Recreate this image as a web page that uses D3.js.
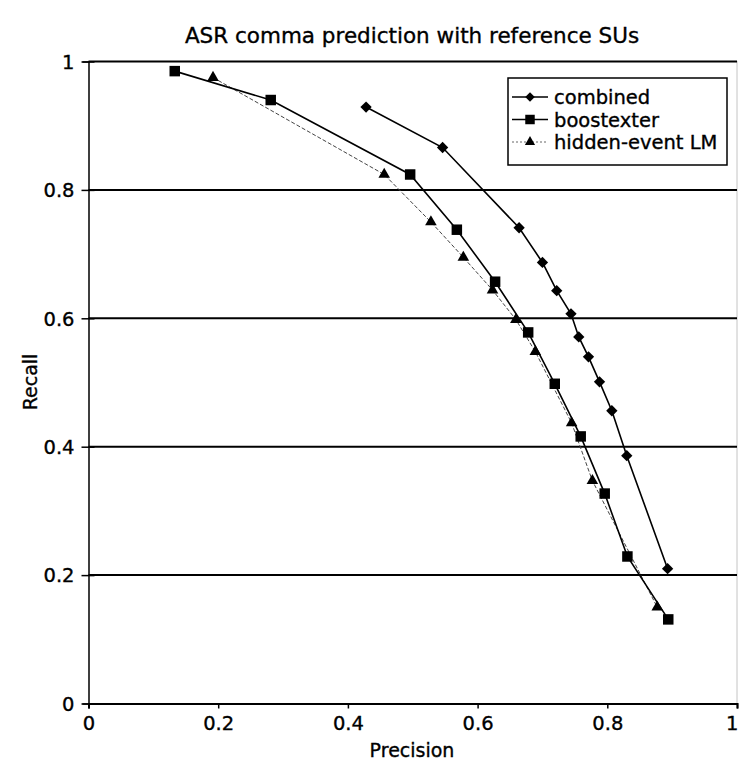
<!DOCTYPE html>
<html><head><meta charset="utf-8">
<script src="https://cdn.jsdelivr.net/npm/d3@7/dist/d3.min.js"></script>
<style>
html,body{margin:0;padding:0;background:#fff;}
text{font-family:"DejaVu Sans",sans-serif;fill:#000;stroke:#000;stroke-width:0.35px;}
</style></head>
<body>
<svg id="chart" width="740" height="766"></svg>
<script>
const title = "ASR comma prediction with reference SUs";
const xLabel = "Precision";
const yLabel = "Recall";
const xTicks = [0, 0.2, 0.4, 0.6, 0.8, 1];
const yTicks = [0, 0.2, 0.4, 0.6, 0.8, 1];
const tickLabels = ["0", "0.2", "0.4", "0.6", "0.8", "1"];
const seriesNames = ["combined", "boostexter", "hidden-event LM"];

const combinedPrecision = [0.428, 0.546, 0.664, 0.700, 0.722, 0.744, 0.756, 0.771, 0.788, 0.807, 0.830, 0.893];
const combinedRecall    = [0.929, 0.866, 0.741, 0.687, 0.643, 0.607, 0.571, 0.540, 0.501, 0.456, 0.386, 0.210];

const boostPrecision = [0.133, 0.281, 0.496, 0.568, 0.627, 0.678, 0.719, 0.759, 0.796, 0.831, 0.894];
const boostRecall    = [0.985, 0.940, 0.824, 0.738, 0.657, 0.578, 0.498, 0.416, 0.327, 0.229, 0.131];

const lmPrecision = [0.192, 0.456, 0.528, 0.578, 0.623, 0.659, 0.689, 0.745, 0.777, 0.877];
const lmRecall    = [0.975, 0.824, 0.750, 0.695, 0.644, 0.598, 0.548, 0.437, 0.347, 0.150];

const svg = d3.select("#chart");
const x = d3.scaleLinear().domain([0, 1]).range([88.5, 737]);
const y = d3.scaleLinear().domain([0, 1]).range([703.5, 61.5]);

// title
svg.append("text").attr("x", 412).attr("y", 43).attr("text-anchor", "middle")
  .style("font-size", "21.5px").text(title);

// right border (dotted gray)
svg.append("line").attr("x1", x(1)).attr("x2", x(1)).attr("y1", y(1)).attr("y2", y(0))
  .attr("stroke", "#888").attr("stroke-width", 1).attr("stroke-dasharray", "1,1");

// horizontal gridlines incl. top
svg.append("g").selectAll("line").data(yTicks.filter(d => d > 0)).join("line")
  .attr("x1", x(0)).attr("x2", x(1)).attr("y1", d => y(d)).attr("y2", d => y(d))
  .attr("stroke", "#000").attr("stroke-width", 2);

// y axis
const yAxis = d3.axisLeft(y).tickValues(yTicks).tickFormat((d, i) => tickLabels[i]).tickSize(6).tickPadding(8);
const gy = svg.append("g").attr("transform", `translate(${x(0)},0)`).call(yAxis);
gy.select(".domain").attr("stroke", "#000").attr("stroke-width", 1.5);
gy.selectAll(".tick line").attr("stroke", "#000").attr("stroke-width", 1.5).attr("x2", 6).attr("x1", -7);
gy.selectAll(".tick text").style("font-size", "19.5px").attr("dy", "0.35em");

// x axis
const xAxis = d3.axisBottom(x).tickValues(xTicks).tickFormat((d, i) => tickLabels[i]).tickSize(5).tickPadding(8);
const gx = svg.append("g").attr("transform", `translate(0,${y(0)})`).call(xAxis);
gx.select(".domain").attr("stroke", "#000").attr("stroke-width", 2);
gx.selectAll(".tick line").attr("stroke", "#000").attr("stroke-width", 1.5);
gx.selectAll(".tick text").style("font-size", "19.5px");
gx.selectAll(".tick text").filter(d => d === 1).attr("text-anchor", "end").attr("dx", "1px");

// axis titles
svg.append("text").attr("x", 412).attr("y", 757).attr("text-anchor", "middle")
  .style("font-size", "19px").text(xLabel);
svg.append("text").attr("transform", "translate(37,382) rotate(-90)").attr("text-anchor", "middle")
  .style("font-size", "19px").text(yLabel);

const line = d3.line().x(d => x(d[0])).y(d => y(d[1]));
const combined = combinedPrecision.map((p, i) => [p, combinedRecall[i]]);
const boost = boostPrecision.map((p, i) => [p, boostRecall[i]]);
const lm = lmPrecision.map((p, i) => [p, lmRecall[i]]);

const square = d3.symbol().type(d3.symbolSquare).size(110);
const triangle = d3.symbol().type(d3.symbolTriangle).size(58);
const diamondSym = d3.symbol().type(d3.symbolSquare).size(64);

// lm
svg.append("path").datum(lm).attr("d", line).attr("fill", "none")
  .attr("stroke", "#444").attr("stroke-width", 1).attr("stroke-dasharray", "4,2");
// boost
svg.append("path").datum(boost).attr("d", line).attr("fill", "none")
  .attr("stroke", "#000").attr("stroke-width", 1.6);
// combined
svg.append("path").datum(combined).attr("d", line).attr("fill", "none")
  .attr("stroke", "#000").attr("stroke-width", 1.6);

svg.append("g").selectAll("path").data(lm).join("path")
  .attr("transform", d => `translate(${x(d[0])},${y(d[1])})`).attr("d", triangle).attr("fill", "#000");
svg.append("g").selectAll("path").data(boost).join("path")
  .attr("transform", d => `translate(${x(d[0])},${y(d[1])})`).attr("d", square).attr("fill", "#000");
svg.append("g").selectAll("path").data(combined).join("path")
  .attr("transform", d => `translate(${x(d[0])},${y(d[1])}) rotate(45)`).attr("d", diamondSym).attr("fill", "#000");

// legend
const lg = svg.append("g");
lg.append("rect").attr("x", 508).attr("y", 78).attr("width", 219).attr("height", 87)
  .attr("fill", "#fff").attr("stroke", "#000").attr("stroke-width", 1.5);
const rows = [
  {name: seriesNames[0], sym: d3.symbol().type(d3.symbolSquare).size(45), rot: 45, dash: null, color: "#000", w: 1.6},
  {name: seriesNames[1], sym: d3.symbol().type(d3.symbolSquare).size(90), rot: 0, dash: null, color: "#000", w: 1.6},
  {name: seriesNames[2], sym: d3.symbol().type(d3.symbolTriangle).size(45), rot: 0, dash: "2,2", color: "#666", w: 1}
];
const ry = [97, 119.5, 142];
rows.forEach((r, i) => {
  lg.append("line").attr("x1", 512).attr("x2", 548).attr("y1", ry[i]).attr("y2", ry[i])
    .attr("stroke", r.color).attr("stroke-width", r.w).attr("stroke-dasharray", r.dash);
  lg.append("path").attr("transform", `translate(530,${ry[i]}) rotate(${r.rot})`).attr("d", r.sym).attr("fill", "#000");
  lg.append("text").attr("x", 554).attr("y", ry[i] + 7).style("font-size", "19.5px").text(r.name);
});
</script>
</body></html>
